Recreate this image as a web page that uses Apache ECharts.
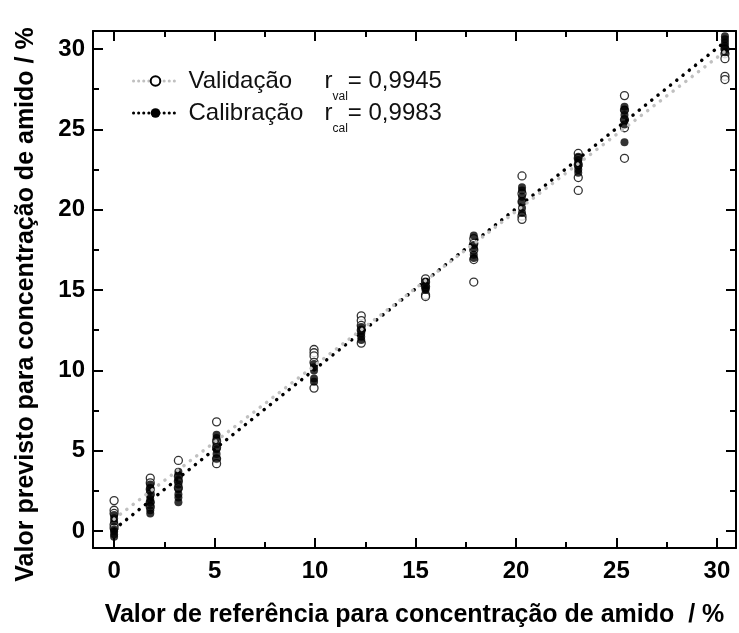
<!DOCTYPE html>
<html>
<head>
<meta charset="utf-8">
<script src="https://cdn.jsdelivr.net/npm/echarts@6/dist/echarts.min.js"></script>
<style>html,body{margin:0;padding:0;background:#fff}#chart{width:739px;height:633px}</style>
</head>
<body>
<div id="chart"></div>
<script>
// valores de referência (eixo x) de cada grupo de amostras
var refLevels=[0,1.8,3.2,5.1,9.95,12.3,15.5,17.9,20.3,23.1,25.4,30.4];
// valores previstos - validação (círculos abertos)
var valPred=[
	[1.9,1.3,1.1,0.4,0.2],
	[3.3,3.0,2.6,2.3,1.8,1.5],
	[4.4,3.4,3.1,2.7],
	[6.8,5.6,5.2,4.5,4.2],
	[11.3,11.1,10.9,10.5,8.9],
	[13.4,13.1,12.8,12.5,11.7],
	[15.7,15.5,15.2,14.7,14.6],
	[18.2,17.9,17.5,16.9,15.5],
	[22.1,21.0,20.5,19.6,19.4],
	[23.5,23.2,22.8,22.0,21.2],
	[27.1,26.2,25.6,25.1,23.2],
	[30.0,29.7,29.4,28.3,28.1]
];
// valores previstos - calibração (círculos cheios)
var calPred=[
	[1.0,0.8,0.6,0.1,0.0,-0.2,-0.35],
	[2.9,2.7,2.5,2.2,2.0,1.8,1.6,1.3,1.1],
	[3.7,3.5,3.2,2.9,2.6,2.3,2.1,1.8],
	[6.0,5.8,5.4,5.1,4.8,4.5],
	[10.4,10.2,10.0,9.5,9.3],
	[12.7,12.5,12.3,12.1,11.9],
	[15.5,15.3,15.1,15.0],
	[18.4,17.8,17.6,17.2,17.0],
	[21.4,21.2,20.8,20.5,20.1,19.8],
	[23.3,23.1,22.9,22.7,22.5,22.3],
	[26.4,26.2,25.9,25.6,25.3,24.2],
	[30.8,30.6,30.4,30.2,30.0,29.8]
];
// retas ajustadas
var valFitX=[0,30.4], valFitY=[0.75,29.85];
var calFitX=[0,30.4], calFitY=[0.1,30.45];
var majorTicks=[0,5,10,15,20,25,30];
var minorTicks=[2.5,7.5,12.5,17.5,22.5,27.5];
var rVal='0,9945', rCal='0,9983';

var myChart=echarts.init(document.getElementById('chart'));
var FONT='Liberation Sans';

function pairs(levels,groups){
	var out=[];
	for(var i=0;i<levels.length;i++){
		for(var j=0;j<groups[i].length;j++) out.push([levels[i],groups[i][j]]);
	}
	return out;
}
function zip(a,b){
	var out=[];
	for(var i=0;i<a.length;i++) out.push([a[i],b[i]]);
	return out;
}

var lineSty={color:'#000',width:2};
//eixo com ticks maiores + eixo só com ticks menores
function axisPair(dim,pos,withLabel){
	var isX=dim==='x';
	var min=-1.05, max=isX?30.95:31.12;
	var major={
		type:'value',position:pos,min:min,max:max,
		axisLine:{show:true,onZero:false,lineStyle:lineSty},
		axisTick:{show:true,inside:true,length:10,customValues:majorTicks,lineStyle:lineSty},
		axisLabel:{show:withLabel,customValues:majorTicks,color:'#000',fontFamily:FONT,fontWeight:'bold',fontSize:24,margin:isX?11:8},
		splitLine:{show:false}
	};
	var minor={
		type:'value',position:pos,min:min,max:max,
		axisLine:{show:false,onZero:false},
		axisTick:{show:true,inside:true,length:6,customValues:minorTicks,lineStyle:lineSty},
		axisLabel:{show:false},
		splitLine:{show:false}
	};
	return [major,minor];
}

var xs=axisPair('x','bottom',true).concat(axisPair('x','top',false));
var ys=axisPair('y','left',true).concat(axisPair('y','right',false));
xs[0].name='Valor de referência para concentração de amido  / %';
xs[0].nameLocation='middle';
xs[0].nameGap=55;
xs[0].nameTextStyle={fontFamily:FONT,fontWeight:'bold',fontSize:25,color:'#000'};
ys[0].name='Valor previsto para concentração de amido / %';
ys[0].nameLocation='middle';
ys[0].nameGap=54;
ys[0].nameTextStyle={fontFamily:FONT,fontWeight:'bold',fontSize:25,color:'#000',padding:[0,30,0,0]};

var dotted={type:[0.1,7.9],cap:'round',width:3.5};

var option={
	animation:false,
	grid:{left:93,right:3,top:31,bottom:83},
	xAxis:xs,
	yAxis:ys,
	legend:{
		orient:'vertical',
		left:132,top:59,padding:0,
		itemWidth:44,itemHeight:12,itemGap:-12,
		data:['Validação','Calibração'],
		lineStyle:{type:[0.1,5],cap:'round',width:3},
		formatter:function(name){
			if(name==='Validação') return '{n|Validação}{r|r}{s|val}{e|= '+rVal+'}';
			return '{n|Calibração}{r|r}{s|cal}{e|= '+rCal+'}';
		},
		textStyle:{
			fontFamily:FONT,fontSize:24,color:'#111',
			rich:{
				n:{fontFamily:FONT,fontSize:24,width:136,padding:[0,0,0,6],color:'#111'},
				r:{fontFamily:FONT,fontSize:24,color:'#111'},
				s:{fontFamily:FONT,fontSize:12,lineHeight:12,color:'#111',padding:[32,0,0,0]},
				e:{fontFamily:FONT,fontSize:24,color:'#111'}
			}
		}
	},
	series:[
		{
			name:'val pontos',type:'scatter',data:pairs(refLevels,valPred),
			symbol:'circle',symbolSize:8,itemStyle:{color:'#fff',borderColor:'#000',borderWidth:1.3},z:2
		},
		{
			name:'cal pontos',type:'scatter',data:pairs(refLevels,calPred),
			symbol:'circle',symbolSize:8,itemStyle:{color:'#000'},z:3
		},
		{
			name:'Calibração',type:'line',data:zip(calFitX,calFitY),
			symbol:'circle',symbolSize:7,showSymbol:false,
			itemStyle:{color:'#000'},
			lineStyle:{color:'#000',type:dotted.type,cap:'round',width:dotted.width},z:4
		},
		{
			name:'Validação',type:'line',data:zip(valFitX,valFitY),
			symbol:'circle',symbolSize:7,showSymbol:false,
			itemStyle:{color:'#fff',borderColor:'#000',borderWidth:1.2},
			lineStyle:{color:'#c0c0c0',type:dotted.type,cap:'round',width:dotted.width},z:5
		}
	]
};
myChart.setOption(option);
</script>
</body>
</html>
